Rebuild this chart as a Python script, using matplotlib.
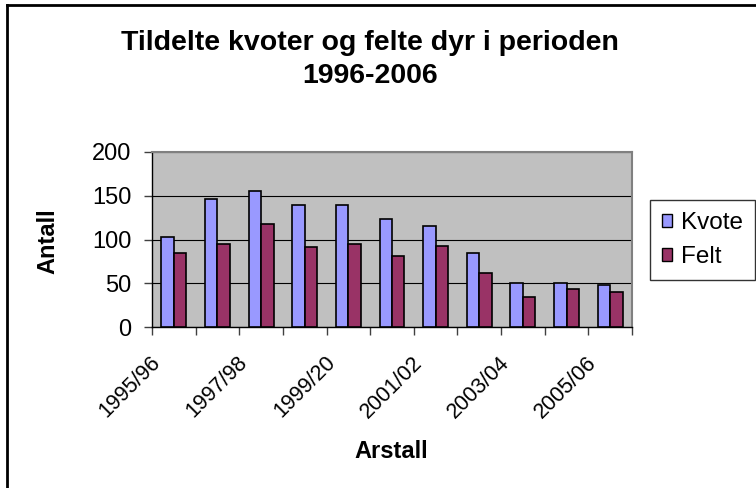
import numpy as np
import matplotlib
matplotlib.use("Agg")
import matplotlib.pyplot as plt
from matplotlib.patches import Patch
from matplotlib.lines import Line2D
from matplotlib.transforms import ScaledTranslation

# data
sesonger = ["1995/96", "1996/97", "1997/98", "1998/99", "1999/20", "2000/01",
            "2001/02", "2002/03", "2003/04", "2004/05", "2005/06"]
kvote = [103, 146, 156, 140, 140, 124, 116, 85, 50, 50, 48]
felt = [85, 95, 118, 91, 95, 81, 93, 62, 34, 44, 40]

plt.rcParams['font.family'] = ['Liberation Sans', 'DejaVu Sans']

W, H = 756, 488
fig = plt.figure(figsize=(W / 100, H / 100), dpi=100)
fig.patch.set_facecolor('white')

# plot area in pixels: x 152..632, y 152..327
ax = fig.add_axes([152 / W, 1 - 327 / H, (632 - 152) / W, (327 - 152) / H])
ax.set_facecolor('#C0C0C0')

x = np.arange(len(sesonger))
w = 1 / 3.5
ax.bar(x - w / 2, kvote, w, color='#9999FF', edgecolor='black', linewidth=1.2, zorder=3)
ax.bar(x + w / 2, felt, w, color='#993366', edgecolor='black', linewidth=1.2, zorder=3)

ax.set_xlim(-0.5, len(sesonger) - 0.5)
ax.set_ylim(0, 200)
ax.set_yticks([0, 50, 100, 150, 200])
ax.yaxis.grid(True, color='black', linewidth=0.8, zorder=1)
ax.set_axisbelow(True)
ax.tick_params(axis='y', direction='out', length=6, width=1, color='#404040',
               labelsize=17, pad=9)

# labels on every second season, tick marks on category borders
ax.set_xticks(x[::2])
ax.set_xticklabels(sesonger[::2], rotation=45, ha='right', va='top')
ax.set_xticks(np.arange(-0.5, len(sesonger)), minor=True)
ax.tick_params(axis='x', which='major', length=0, labelsize=15.5, pad=18)
ax.tick_params(axis='x', which='minor', direction='out', length=6, width=1, color='#404040')
off = ScaledTranslation(-0.09, 0, fig.dpi_scale_trans)
for lab in ax.get_xticklabels():
    lab.set_transform(lab.get_transform() + off)

for s in ['top', 'right']:
    ax.spines[s].set_color('#808080')
    ax.spines[s].set_linewidth(1.5)
for s in ['left', 'bottom']:
    ax.spines[s].set_color('black')
    ax.spines[s].set_linewidth(1.0)

# titles
fig.text(370 / W, 1 - 30 / H, "Tildelte kvoter og felte dyr i perioden\n1996-2006",
         ha='center', va='top', fontsize=20.5, fontweight='bold', linespacing=1.35)
fig.text(48 / W, 1 - 241 / H, "Antall", rotation=90, ha='center', va='center',
         fontsize=17, fontweight='bold')
fig.text(391 / W, 1 - 451 / H, "Arstall", ha='center', va='center',
         fontsize=17, fontweight='bold')

# legend
handles = [Patch(facecolor='#9999FF', edgecolor='black', linewidth=1),
           Patch(facecolor='#993366', edgecolor='black', linewidth=1)]
leg = fig.legend(handles, ["Kvote", "Felt"], loc='upper left',
                 bbox_to_anchor=(650 / W, 1 - 200 / H), borderaxespad=0,
                 fontsize=17.5, fancybox=False, frameon=True, edgecolor='black',
                 handlelength=0.42, handleheight=0.42, handletextpad=0.35,
                 borderpad=0.5, labelspacing=0.5)
leg.get_frame().set_linewidth(1.0)

# chart frame (only left and top edges are visible)
fig.add_artist(Line2D([7 / W, 7 / W], [0, 1 - 5 / H], transform=fig.transFigure,
                      color='black', linewidth=2))
fig.add_artist(Line2D([7 / W, 1], [1 - 5 / H, 1 - 5 / H], transform=fig.transFigure,
                      color='black', linewidth=2))

fig.savefig('out.png', dpi=100)
